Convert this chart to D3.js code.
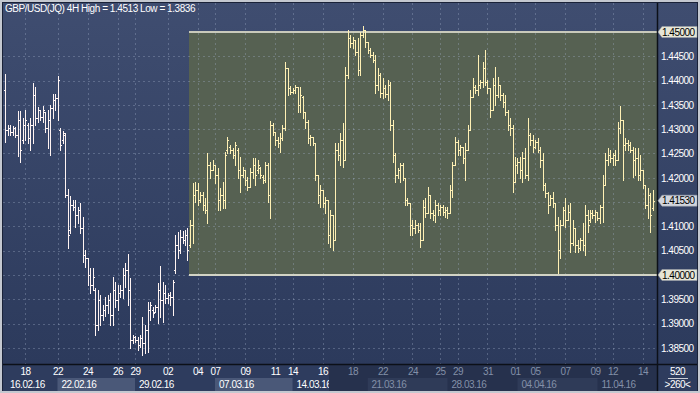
<!DOCTYPE html>
<html><head><meta charset="utf-8">
<script src="https://cdn.jsdelivr.net/npm/d3@7"></script>
<style>
body{margin:0;background:#c4c8d0;}
svg{display:block;font-family:"Liberation Sans",Arial,sans-serif;}
</style>
</head><body>
<svg id="c" width="700" height="393"></svg>
<script>
const title = "GBP/USD(JQ) 4H High = 1.4513 Low = 1.3836";
const highs = [
1.4414,1.4309,1.4309,1.4307,1.4305,1.4338,1.4338,1.4323,1.4340,1.4313,
1.4323,1.4395,1.4387,1.4346,1.4340,1.4348,1.4335,1.4340,1.4350,1.4373,
1.4373,1.4410,1.4303,1.4296,1.4292,1.4177,1.4163,1.4154,1.4154,1.4140,
1.4148,1.4119,1.4051,1.4035,1.4014,1.4014,1.3973,1.3969,1.3959,1.3938,
1.3955,1.3959,1.3963,1.3996,1.3986,1.3979,1.3979,1.4014,1.4025,1.4043,
1.3994,1.3877,1.3875,1.3872,1.3877,1.3914,1.3897,1.3944,1.3944,1.3934,
1.3938,1.3984,1.4018,1.3986,1.3979,1.3963,1.3965,1.3990,1.4082,1.4089,
1.4093,1.4091,1.4093,1.4097,1.4113,1.4189,1.4191,1.4189,1.4171,1.4171,
1.4159,1.4251,1.4233,1.4237,1.4226,1.4220,1.4179,1.4191,1.4253,1.4284,
1.4268,1.4261,1.4274,1.4261,1.4243,1.4222,1.4216,1.4202,1.4220,1.4241,
1.4241,1.4237,1.4222,1.4206,1.4233,1.4231,1.4317,1.4313,1.4294,1.4284,
1.4292,1.4309,1.4438,1.4426,1.4389,1.4385,1.4391,1.4387,1.4387,1.4368,
1.4335,1.4319,1.4288,1.4284,1.4272,1.4206,1.4185,1.4175,1.4161,1.4154,
1.4134,1.4123,1.4272,1.4272,1.4292,1.4313,1.4428,1.4504,1.4494,1.4490,
1.4484,1.4488,1.4500,1.4513,1.4504,1.4480,1.4467,1.4459,1.4453,1.4426,
1.4416,1.4405,1.4391,1.4401,1.4397,1.4319,1.4251,1.4220,1.4231,1.4231,
1.4200,1.4159,1.4148,1.4113,1.4113,1.4107,1.4107,1.4154,1.4159,1.4181,
1.4165,1.4134,1.4154,1.4148,1.4144,1.4144,1.4140,1.4140,1.4185,1.4233,
1.4284,1.4278,1.4268,1.4263,1.4272,1.4309,1.4381,1.4405,1.4391,1.4453,
1.4401,1.4438,1.4463,1.4401,1.4385,1.4405,1.4428,1.4408,1.4391,1.4375,
1.4371,1.4340,1.4323,1.4309,1.4243,1.4241,1.4243,1.4253,1.4261,1.4323,
1.4292,1.4288,1.4278,1.4282,1.4263,1.4251,1.4189,1.4171,1.4165,1.4171,
1.4148,1.4119,1.4113,1.4140,1.4159,1.4144,1.4148,1.4113,1.4097,1.4072,
1.4076,1.4107,1.4144,1.4134,1.4134,1.4134,1.4134,1.4130,1.4144,1.4206,
1.4251,1.4261,1.4257,1.4251,1.4257,1.4315,1.4348,1.4319,1.4282,1.4278,
1.4274,1.4263,1.4261,1.4261,1.4247,1.4216,1.4185,1.4179,1.4169,1.4175];
const lows = [
1.4274,1.4288,1.4288,1.4288,1.4284,1.4245,1.4233,1.4272,1.4278,1.4272,
1.4257,1.4272,1.4309,1.4315,1.4319,1.4315,1.4294,1.4261,1.4247,1.4323,
1.4340,1.4319,1.4257,1.4272,1.4161,1.4056,1.4086,1.4134,1.4099,1.4107,
1.4086,1.4027,1.4016,1.3979,1.3963,1.3969,1.3877,1.3887,1.3897,1.3907,
1.3916,1.3922,1.3897,1.3897,1.3934,1.3928,1.3955,1.3953,1.3975,1.3938,
1.3850,1.3860,1.3862,1.3846,1.3852,1.3836,1.3840,1.3842,1.3907,1.3914,
1.3924,1.3901,1.3914,1.3903,1.3942,1.3942,1.3938,1.3918,1.4004,1.4035,
1.4045,1.4066,1.4062,1.4031,1.4058,1.4066,1.4150,1.4144,1.4150,1.4134,
1.4128,1.4107,1.4200,1.4216,1.4189,1.4134,1.4134,1.4138,1.4138,1.4251,
1.4251,1.4241,1.4226,1.4200,1.4171,1.4202,1.4185,1.4175,1.4181,1.4200,
1.4185,1.4210,1.4200,1.4189,1.4191,1.4150,1.4117,1.4288,1.4268,1.4263,
1.4253,1.4278,1.4298,1.4371,1.4373,1.4375,1.4375,1.4335,1.4335,1.4323,
1.4303,1.4272,1.4268,1.4268,1.4196,1.4148,1.4140,1.4140,1.4128,1.4066,
1.4058,1.4051,1.4072,1.4237,1.4226,1.4222,1.4237,1.4405,1.4469,1.4467,
1.4453,1.4412,1.4412,1.4490,1.4469,1.4457,1.4449,1.4438,1.4375,1.4381,
1.4366,1.4364,1.4366,1.4360,1.4298,1.4233,1.4191,1.4200,1.4191,1.4196,
1.4144,1.4144,1.4082,1.4082,1.4086,1.4089,1.4058,1.4072,1.4119,1.4128,
1.4117,1.4113,1.4109,1.4123,1.4123,1.4123,1.4119,1.4117,1.4128,1.4161,
1.4226,1.4247,1.4247,1.4231,1.4196,1.4257,1.4298,1.4366,1.4375,1.4371,
1.4385,1.4387,1.4391,1.4375,1.4325,1.4340,1.4350,1.4366,1.4360,1.4346,
1.4329,1.4298,1.4288,1.4171,1.4191,1.4210,1.4200,1.4191,1.4200,1.4196,
1.4268,1.4253,1.4261,1.4253,1.4222,1.4175,1.4161,1.4128,1.4144,1.4140,
1.4093,1.4004,1.4035,1.4103,1.4099,1.4113,1.4047,1.4062,1.4047,1.4047,
1.4051,1.4051,1.4041,1.4089,1.4109,1.4117,1.4109,1.4113,1.4107,1.4109,
1.4185,1.4226,1.4233,1.4226,1.4226,1.4237,1.4292,1.4196,1.4257,1.4257,
1.4253,1.4202,1.4206,1.4196,1.4196,1.4179,1.4138,1.4117,1.4089,1.4134];
const opens = [
1.4381,1.4298,1.4303,1.4294,1.4303,1.4288,1.4319,1.4278,1.4309,1.4309,
1.4282,1.4309,1.4371,1.4323,1.4340,1.4325,1.4335,1.4303,1.4319,1.4344,
1.4360,1.4364,1.4298,1.4278,1.4288,1.4165,1.4093,1.4144,1.4140,1.4123,
1.4134,1.4097,1.4041,1.4035,1.4000,1.3979,1.3969,1.3897,1.3949,1.3918,
1.3928,1.3938,1.3949,1.3918,1.3969,1.3949,1.3963,1.3969,1.4000,1.4010,
1.3969,1.3866,1.3872,1.3866,1.3856,1.3870,1.3860,1.3887,1.3928,1.3928,
1.3924,1.3934,1.3969,1.3949,1.3963,1.3953,1.3959,1.3955,1.4010,1.4062,
1.4051,1.4078,1.4072,1.4082,1.4062,1.4103,1.4165,1.4175,1.4154,1.4165,
1.4144,1.4134,1.4226,1.4216,1.4226,1.4206,1.4154,1.4165,1.4154,1.4257,
1.4263,1.4257,1.4247,1.4257,1.4216,1.4206,1.4216,1.4196,1.4181,1.4212,
1.4226,1.4216,1.4220,1.4202,1.4196,1.4226,1.4165,1.4309,1.4294,1.4278,
1.4272,1.4282,1.4303,1.4426,1.4385,1.4377,1.4381,1.4387,1.4350,1.4366,
1.4335,1.4315,1.4282,1.4284,1.4272,1.4206,1.4165,1.4175,1.4148,1.4154,
1.4082,1.4123,1.4072,1.4257,1.4247,1.4278,1.4237,1.4412,1.4488,1.4478,
1.4484,1.4459,1.4422,1.4494,1.4504,1.4480,1.4463,1.4453,1.4443,1.4391,
1.4412,1.4375,1.4385,1.4373,1.4391,1.4309,1.4247,1.4206,1.4216,1.4226,
1.4200,1.4154,1.4148,1.4103,1.4097,1.4103,1.4093,1.4072,1.4140,1.4128,
1.4165,1.4128,1.4123,1.4144,1.4134,1.4140,1.4130,1.4134,1.4128,1.4175,
1.4226,1.4274,1.4257,1.4263,1.4241,1.4257,1.4298,1.4366,1.4387,1.4381,
1.4391,1.4397,1.4426,1.4397,1.4385,1.4340,1.4391,1.4371,1.4391,1.4371,
1.4356,1.4335,1.4309,1.4303,1.4191,1.4226,1.4233,1.4216,1.4241,1.4206,
1.4288,1.4278,1.4263,1.4274,1.4257,1.4237,1.4185,1.4169,1.4144,1.4159,
1.4148,1.4103,1.4051,1.4103,1.4134,1.4113,1.4130,1.4066,1.4097,1.4062,
1.4056,1.4072,1.4062,1.4123,1.4113,1.4128,1.4123,1.4130,1.4117,1.4140,
1.4185,1.4237,1.4247,1.4241,1.4247,1.4237,1.4303,1.4319,1.4268,1.4272,
1.4268,1.4257,1.4237,1.4241,1.4206,1.4216,1.4185,1.4144,1.4165,1.4138];
const closes = [
1.4298,1.4303,1.4294,1.4303,1.4288,1.4319,1.4257,1.4309,1.4319,1.4282,
1.4309,1.4371,1.4323,1.4340,1.4325,1.4340,1.4303,1.4319,1.4344,1.4360,
1.4364,1.4401,1.4268,1.4292,1.4165,1.4082,1.4144,1.4140,1.4123,1.4134,
1.4097,1.4041,1.4035,1.4000,1.3979,1.3996,1.3897,1.3949,1.3918,1.3928,
1.3938,1.3949,1.3918,1.3969,1.3949,1.3963,1.3969,1.4000,1.4010,1.3969,
1.3866,1.3872,1.3866,1.3856,1.3870,1.3860,1.3887,1.3928,1.3938,1.3922,
1.3934,1.3969,1.3949,1.3963,1.3953,1.3959,1.3955,1.3986,1.4062,1.4051,
1.4078,1.4072,1.4082,1.4051,1.4103,1.4165,1.4175,1.4154,1.4165,1.4144,
1.4134,1.4226,1.4216,1.4226,1.4206,1.4154,1.4165,1.4154,1.4247,1.4278,
1.4257,1.4247,1.4268,1.4216,1.4206,1.4216,1.4196,1.4181,1.4212,1.4226,
1.4206,1.4226,1.4206,1.4196,1.4226,1.4165,1.4309,1.4294,1.4278,1.4272,
1.4282,1.4303,1.4426,1.4385,1.4377,1.4381,1.4387,1.4350,1.4371,1.4335,
1.4315,1.4282,1.4284,1.4272,1.4206,1.4165,1.4175,1.4148,1.4154,1.4082,
1.4123,1.4072,1.4257,1.4247,1.4278,1.4237,1.4412,1.4488,1.4478,1.4484,
1.4459,1.4422,1.4494,1.4504,1.4480,1.4463,1.4453,1.4443,1.4391,1.4412,
1.4375,1.4385,1.4373,1.4391,1.4309,1.4247,1.4206,1.4216,1.4226,1.4200,
1.4154,1.4148,1.4103,1.4097,1.4103,1.4093,1.4072,1.4140,1.4128,1.4165,
1.4128,1.4123,1.4144,1.4134,1.4140,1.4130,1.4134,1.4128,1.4175,1.4226,
1.4274,1.4257,1.4263,1.4241,1.4257,1.4298,1.4366,1.4387,1.4381,1.4391,
1.4397,1.4426,1.4397,1.4385,1.4340,1.4391,1.4371,1.4391,1.4371,1.4356,
1.4335,1.4309,1.4303,1.4191,1.4226,1.4233,1.4216,1.4241,1.4206,1.4288,
1.4278,1.4263,1.4274,1.4257,1.4237,1.4185,1.4169,1.4144,1.4159,1.4148,
1.4103,1.4051,1.4103,1.4134,1.4113,1.4130,1.4066,1.4097,1.4062,1.4056,
1.4072,1.4062,1.4123,1.4103,1.4128,1.4123,1.4130,1.4117,1.4140,1.4185,
1.4237,1.4247,1.4241,1.4247,1.4237,1.4303,1.4319,1.4268,1.4272,1.4268,
1.4257,1.4237,1.4241,1.4206,1.4216,1.4185,1.4144,1.4165,1.4123,1.4153];

// axis labels
const yTicks = [1.385,1.390,1.395,1.400,1.405,1.410,1.415,1.420,1.425,1.430,1.435,1.440,1.445];
const yHidden = [1.400,1.415];          // covered by marker boxes
const dayTickIdx = [8,21,33,45,52,65,77,84,96,108,115,127,139,151,163,174,181,193,204,212,224,236,243,255];
const dayLabels = ["18","22","24","26","29","02","04","07","09","11","14","16","18","22","24","25","29","31","01","05","07","09","12","14"];
const weekStartIdx = [-1.5,21,52,84,115,145,177,205,237];
const weekLabels = ["16.02.16","22.02.16","29.02.16","07.03.16","14.03.16","21.03.16","28.03.16","04.04.16","11.04.16"];
const zoneFromIdx = 73.6, zoneHigh = 1.45, zoneLow = 1.40;
const dimFromIdx = 129.6;
const lastPrice = 1.4153;
const barCount = 520, barsShown = 260;

const svg = d3.select("#c");
const P = {l:3, r:657, t:3, b:364};
const x = d3.scaleLinear().domain([0, 259]).range([5, 652.5]);
const y = d3.scaleLinear().domain([1.40, 1.45]).range([275, 32]);
const fmt = d3.format(".5f");

const defs = svg.append("defs");
const g1 = defs.append("linearGradient").attr("id","bg").attr("x1",0).attr("y1",0).attr("x2",0).attr("y2",1);
g1.append("stop").attr("offset","0%").attr("stop-color","#3f4d70");
g1.append("stop").attr("offset","100%").attr("stop-color","#2c3a5c");
defs.append("clipPath").attr("id","pc").append("rect").attr("x",P.l).attr("y",P.t).attr("width",P.r-P.l).attr("height",P.b-P.t);
defs.append("clipPath").attr("id","xc").append("rect").attr("x",P.l).attr("y",365).attr("width",P.r-P.l).attr("height",26);

// frame
svg.append("rect").attr("x",0).attr("y",0).attr("width",700).attr("height",393).attr("fill","#c4c8d0");
svg.append("rect").attr("x",2).attr("y",2).attr("width",696).attr("height",389).attr("fill","#1a2238");
svg.append("rect").attr("x",P.l).attr("y",P.t).attr("width",P.r-P.l).attr("height",P.b-P.t).attr("fill","url(#bg)");
svg.append("rect").attr("x",658).attr("y",P.t).attr("width",39).attr("height",P.b-P.t).attr("fill","url(#bg)");

// zone rectangle
svg.append("rect").attr("x",x(zoneFromIdx)).attr("y",y(zoneHigh)).attr("width",P.r-x(zoneFromIdx))
  .attr("height",y(zoneLow)-y(zoneHigh)).attr("fill","#566152");

// grid
const grid = svg.append("g").attr("clip-path","url(#pc)").attr("shape-rendering","crispEdges");
grid.selectAll("line.h").data(yTicks).join("line")
  .attr("x1",P.l).attr("x2",P.r).attr("y1",d=>Math.round(y(d))+0.5).attr("y2",d=>Math.round(y(d))+0.5)
  .attr("stroke","rgba(160,175,200,0.35)").attr("stroke-dasharray","2,3");
grid.selectAll("line.v").data(dayTickIdx).join("line")
  .attr("y1",P.t).attr("y2",P.b).attr("x1",d=>Math.round(x(d))+0.5).attr("x2",d=>Math.round(x(d))+0.5)
  .attr("stroke","rgba(160,175,200,0.35)").attr("stroke-dasharray","2,3");

// zone borders
svg.append("line").attr("x1",x(zoneFromIdx)).attr("x2",P.r).attr("y1",y(zoneHigh)).attr("y2",y(zoneHigh))
  .attr("stroke","#c9cabb").attr("stroke-width",2);
svg.append("line").attr("x1",x(zoneFromIdx)).attr("x2",P.r).attr("y1",y(zoneLow)).attr("y2",y(zoneLow))
  .attr("stroke","#d2d3c4").attr("stroke-width",2);

// bars
const bars = d3.range(highs.length).map(i=>({i,h:highs[i],l:lows[i],o:opens[i],c:closes[i]}));
const bg = svg.append("g").attr("clip-path","url(#pc)").attr("shape-rendering","crispEdges");
const col = d=> d.i >= zoneFromIdx ? "#fff0b4" : "#fff4f2";
const bx = d=> Math.round(x(d.i))+0.5;
bg.selectAll("line.b").data(bars).join("line")
  .attr("x1",bx).attr("x2",bx).attr("y1",d=>Math.round(y(d.h))).attr("y2",d=>Math.round(y(d.l))+1)
  .attr("stroke",col).attr("stroke-width",1);
bg.selectAll("line.o").data(bars).join("line")
  .attr("x1",d=>bx(d)-1.5).attr("x2",d=>bx(d)).attr("y1",d=>Math.round(y(d.o))+0.5).attr("y2",d=>Math.round(y(d.o))+0.5)
  .attr("stroke",col).attr("stroke-width",1);
bg.selectAll("line.c").data(bars).join("line")
  .attr("x1",d=>bx(d)).attr("x2",d=>bx(d)+1.5).attr("y1",d=>Math.round(y(d.c))+0.5).attr("y2",d=>Math.round(y(d.c))+0.5)
  .attr("stroke",col).attr("stroke-width",1);

// x axis panel
svg.append("rect").attr("x",P.l).attr("y",365).attr("width",P.r-P.l).attr("height",26).attr("fill","#2e3c5e");
svg.append("rect").attr("x",x(dimFromIdx)).attr("y",365).attr("width",P.r-x(dimFromIdx)).attr("height",26).attr("fill","#26314d");
svg.append("rect").attr("x",658).attr("y",365).attr("width",39).attr("height",26).attr("fill","#2e3c5e");
const wk = svg.append("g").attr("clip-path","url(#xc)");
weekStartIdx.forEach((s,k)=>{
  const x0 = Math.max(P.l, x(s)), x1 = k+1<weekStartIdx.length ? x(weekStartIdx[k+1]) : P.r;
  const dim = x0 >= x(dimFromIdx);
  if (k%2===1) {
    wk.append("rect").attr("x",x0).attr("y",378).attr("width",x1-x0).attr("height",13)
      .attr("fill", dim ? "#2f3b58" : "#4a5878");
  }
});
// re-dim overlap of 14.03 text boundary handled by clip + colour
const dimX = x(dimFromIdx);
wk.selectAll("text.w").data(weekLabels).join("text")
  .attr("x",(d,k)=>Math.max(6,x(weekStartIdx[k]))+4).attr("y",388)
  .attr("fill",(d,k)=> x(weekStartIdx[k]) >= dimX ? "#8390a8" : "#ffffff")
  .attr("font-size",10).attr("letter-spacing",-0.5).text(d=>d);
svg.append("rect").attr("x",dimX).attr("y",378).attr("width",0.01).attr("height",0);
// cover 14.03 text past dim start
wk.append("rect").attr("x",dimX).attr("y",378).attr("width",x(145)-dimX).attr("height",13).attr("fill","#26314d");

const xAxis = d3.axisBottom(x).tickValues(dayTickIdx).tickFormat((d,i)=>dayLabels[i]).tickSize(0).tickPadding(3);
const xg = svg.append("g").attr("transform","translate(0,365)").call(xAxis);
xg.select(".domain").remove();
xg.selectAll("text").attr("font-size",10).attr("letter-spacing",-0.5).attr("font-family","Liberation Sans, Arial, sans-serif")
  .attr("fill",d=> x(d) >= dimX ? "#8390a8" : "#ffffff");

// separators
svg.append("line").attr("x1",P.l).attr("x2",697).attr("y1",364.5).attr("y2",364.5).attr("stroke","#0c1018").attr("stroke-width",1.5);
svg.append("line").attr("x1",657.5).attr("x2",657.5).attr("y1",P.t).attr("y2",391).attr("stroke","#0c1018").attr("stroke-width",1.5);

// y axis
const yAxis = d3.axisRight(y).tickValues(yTicks.filter(v=>!yHidden.includes(v))).tickFormat(fmt).tickSize(0).tickPadding(3);
const yg = svg.append("g").attr("transform","translate(658,0)").call(yAxis);
yg.select(".domain").remove();
yg.selectAll("text").attr("font-size",10).attr("letter-spacing",-0.5).attr("fill","#ffffff")
  .attr("font-family","Liberation Sans, Arial, sans-serif");

// price markers
function marker(v, fill){
  const yy = y(v);
  const g = svg.append("g");
  g.append("path").attr("d",`M658,${yy} L662,${yy-5.5} L697,${yy-5.5} L697,${yy+5.5} L662,${yy+5.5} Z`)
    .attr("fill",fill).attr("stroke","#9aa0a8").attr("stroke-width",0.5);
  g.append("text").attr("x",662).attr("y",yy+3.6).attr("font-size",10).attr("letter-spacing",-0.5)
    .attr("fill","#000").text(fmt(v));
}
marker(zoneHigh, "#e6e6d6");
marker(zoneLow, "#e6e6d6");
marker(lastPrice, "#d2d6de");

// corner
svg.append("text").attr("x",677.5).attr("y",375).attr("text-anchor","middle").attr("font-size",10).attr("letter-spacing",-0.5).attr("fill","#fff").text(barCount);
svg.append("line").attr("x1",668).attr("x2",688).attr("y1",378.5).attr("y2",378.5).attr("stroke","#c8ccd4");
svg.append("text").attr("x",677.5).attr("y",388).attr("text-anchor","middle").attr("font-size",10).attr("letter-spacing",-0.5).attr("fill","#fff").text(">"+barsShown+"<");

// title
svg.append("text").attr("x",5).attr("y",12).attr("font-size",10).attr("letter-spacing",-0.45).attr("fill","#ffffff").text(title);
</script>
</body></html>
